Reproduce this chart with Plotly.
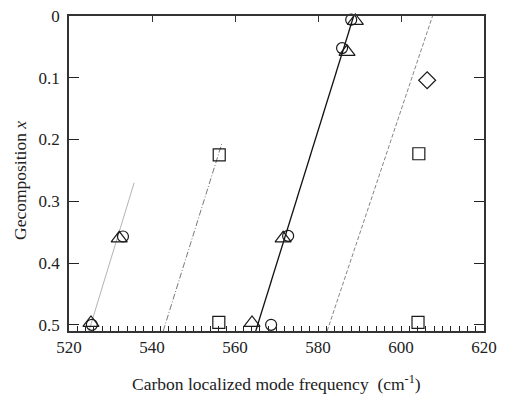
import plotly.graph_objects as go

# ---- data ----
tri_x = [525.3, 532.1, 564.1, 571.6, 587.0, 589.0]
tri_y = [0.497, 0.360, 0.497, 0.360, 0.058, 0.008]
circ_x = [525.5, 533.0, 568.7, 572.8, 585.8, 588.0]
circ_y = [0.500, 0.357, 0.500, 0.356, 0.052, 0.006]
sq_x = [556.2, 604.3, 556.1, 604.1]
sq_y = [0.225, 0.223, 0.496, 0.496]
dia_x = [606.3]
dia_y = [0.104]

# fitted guide lines (end points)
line1_x = [524.8, 535.7]
line1_y = [0.510, 0.270]
line2_x = [542.7, 556.8]
line2_y = [0.510, 0.207]
line3_x = [565.0, 588.6]
line3_y = [0.510, 0.000]
line4_x = [582.2, 607.6]
line4_y = [0.510, 0.000]

x_ticks = [520, 540, 560, 580, 600, 620]
x_top_ticks = [540, 560, 580, 600]
y_ticks = [0, 0.1, 0.2, 0.3, 0.4, 0.5]
y_ticktext = ["0", "0.1", "0.2", "0.3", "0.4", "0.5"]

FONT = "Liberation Serif, Times New Roman, serif"
AX = "#333333"
INK = "#1a1a1a"

fig = go.Figure()

fig.add_trace(go.Scatter(x=line1_x, y=line1_y, mode="lines",
                         line=dict(color="#a0a0a0", width=0.8), hoverinfo="skip"))
fig.add_trace(go.Scatter(x=line2_x, y=line2_y, mode="lines",
                         line=dict(color="#555555", width=0.8, dash="6px,2px,1px,2px"), hoverinfo="skip"))
fig.add_trace(go.Scatter(x=line3_x, y=line3_y, mode="lines",
                         line=dict(color="#111111", width=1.3), hoverinfo="skip"))
fig.add_trace(go.Scatter(x=line4_x, y=line4_y, mode="lines",
                         line=dict(color="#666666", width=0.8, dash="4px,2px"), hoverinfo="skip"))

mk = dict(color=INK, line=dict(color=INK, width=1.2))
fig.add_trace(go.Scatter(x=circ_x, y=circ_y, mode="markers",
                         marker=dict(symbol="circle-open", size=11, **mk), cliponaxis=False))
fig.add_trace(go.Scatter(x=tri_x, y=tri_y, mode="markers",
                         marker=dict(symbol="triangle-up-open", size=14, **mk), cliponaxis=False))
fig.add_trace(go.Scatter(x=sq_x, y=sq_y, mode="markers",
                         marker=dict(symbol="square-open", size=12, **mk), cliponaxis=False))
fig.add_trace(go.Scatter(x=dia_x, y=dia_y, mode="markers",
                         marker=dict(symbol="diamond-open", size=13, **mk), cliponaxis=False))
# empty trace to activate the top axis
fig.add_trace(go.Scatter(x=[], y=[], xaxis="x2", yaxis="y", hoverinfo="skip"))

# page body has an 8px margin, so the figure is drawn 8px smaller and shifted
fig.update_layout(
    width=497, height=389,
    margin=dict(l=61, r=21, t=8, b=66, autoexpand=False),
    paper_bgcolor="white", plot_bgcolor="white",
    showlegend=False,
    font=dict(family=FONT, size=17, color="#222222"),
    xaxis=dict(range=[520, 620], tickvals=x_ticks, ticks="inside", ticklen=5,
               tickwidth=1, tickcolor="#222222", automargin=False,
               ticklabeloverflow="allow",
               minor=dict(dtick=2, tick0=520, ticks="inside", ticklen=5,
                          tickwidth=1, tickcolor="#222222"),
               showline=True, linecolor=AX, linewidth=1.6, mirror=True,
               showgrid=False, zeroline=False,
               tickfont=dict(family=FONT, size=17, color="#222222")),
    xaxis2=dict(range=[520, 620], overlaying="x", side="top", tickvals=x_top_ticks,
                ticks="inside", ticklen=6, tickwidth=1.2, tickcolor="#333333",
                automargin=False,
                showticklabels=False, showline=False, showgrid=False, zeroline=False),
    yaxis=dict(range=[0.51, 0], tickvals=y_ticks, ticktext=y_ticktext,
               ticks="inside", ticklen=10, tickwidth=1.2, tickcolor="#222222",
               automargin=False, ticklabeloverflow="allow",
               showline=True, linecolor=AX, linewidth=1.6, mirror="ticks",
               showgrid=False, zeroline=False, ticklabelstandoff=4,
               tickfont=dict(family=FONT, size=17, color="#222222")),
    annotations=[
        dict(text="Carbon localized mode frequency  (cm<sup>-1</sup>)",
             xref="paper", yref="paper", x=0.5, y=-52 / 315,
             xanchor="center", yanchor="middle", showarrow=False,
             font=dict(family=FONT, size=17.5, color="#222222")),
        dict(text="Gecomposition <i>x</i>", textangle=-90,
             xref="paper", yref="paper", x=(20 - 69) / 415, y=(331 - 181) / 315,
             xanchor="center", yanchor="middle", showarrow=False,
             font=dict(family=FONT, size=17.5, color="#222222")),
    ],
)

fig.write_html("out.html")
